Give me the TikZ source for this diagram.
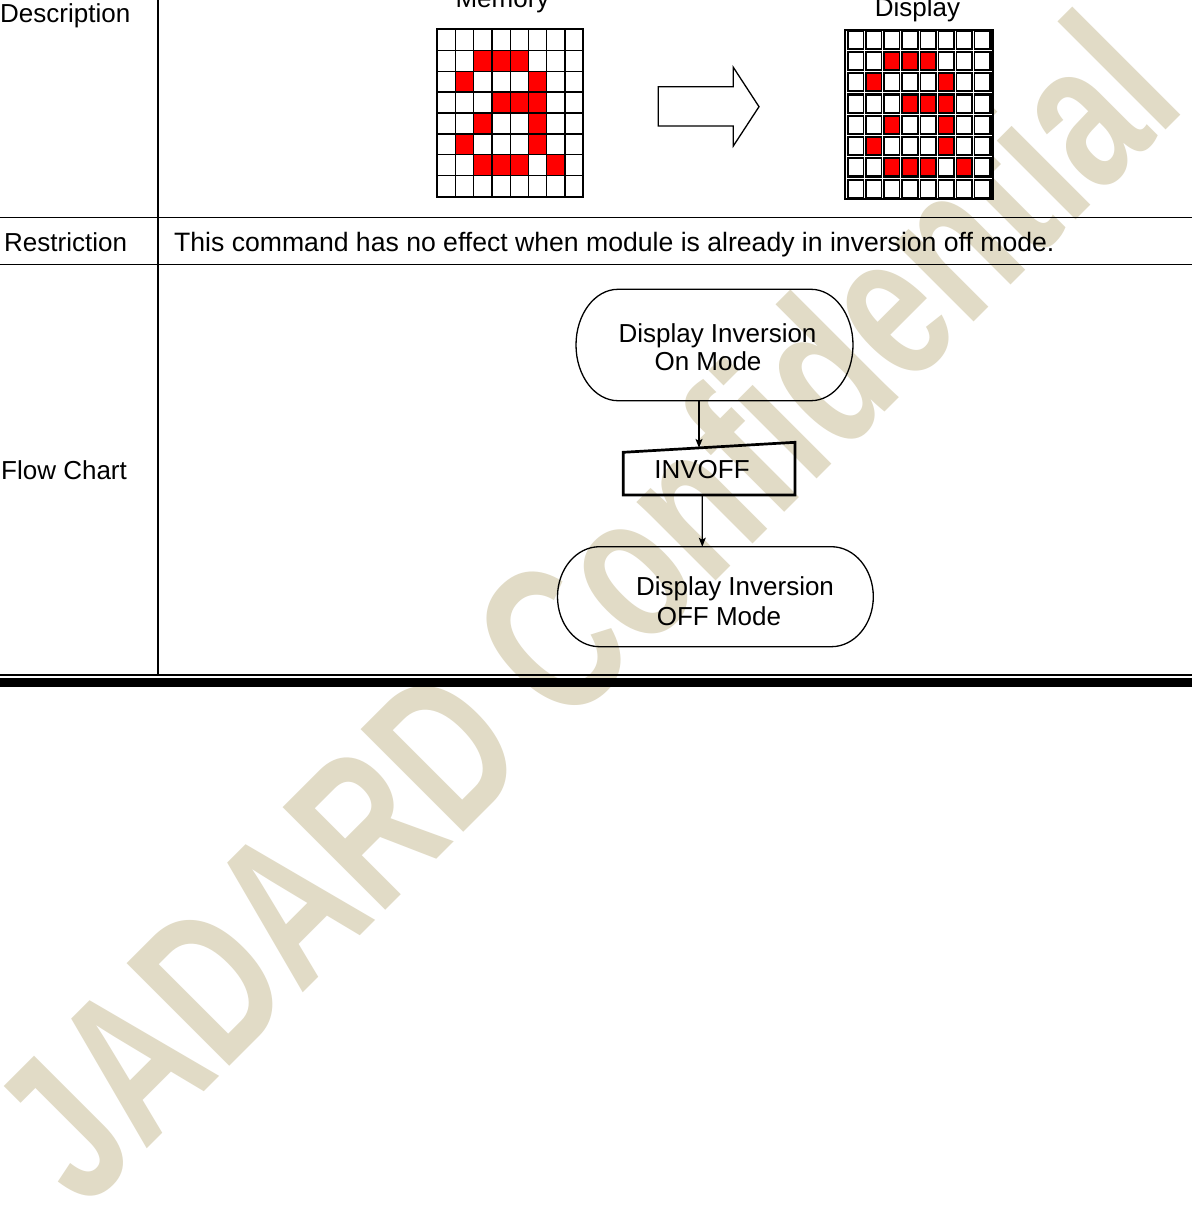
\documentclass[tikz,border=0pt]{standalone}
\usepackage{fontspec}
\setmainfont{Liberation Sans}
\usetikzlibrary{arrows.meta,calc}
\definecolor{wmcol}{RGB}{225,219,198}
\definecolor{pxred}{RGB}{255,0,0}
\begin{document}
\begin{tikzpicture}[x=1pt,y=-1pt,
  font=\fontsize{26}{30}\selectfont,
  lbl/.style={anchor=base west, inner sep=0pt},
  ctr/.style={anchor=base, inner sep=0pt},
  tline/.style={line width=1.8pt},
  gline/.style={line width=1.2pt},
  term/.style={line width=1.3pt},
  flow/.style={line width=1.2pt, -{Stealth[length=9pt,width=7pt,inset=2pt]}},
  holder/.style={draw=none, inner sep=0pt, outer sep=0pt},
]
\useasboundingbox (0,0) rectangle (1192,1209);
\clip (0,0) rectangle (1192,1209);
\fill[white] (0,0) rectangle (1192,1209);

% watermark
\node[font=\bfseries\fontsize{211}{211}\selectfont, text=wmcol, anchor=base west,
      inner sep=0pt, rotate=45, xscale=0.724] (wm) at (84,1212) {JADARD Confidential};

% table rules
\draw[tline] (158,0) -- (158,675);
\draw[tline] (0,217.5) -- (1192,217.5);
\draw[tline] (0,264.5) -- (1192,264.5);
\draw[line width=2pt] (0,675) -- (1192,675);
\fill[black] (0,678) rectangle (1192,687);

% row labels
\node[lbl] (ldesc) at (0,23) {Description};
\node[lbl] (lrest) at (4,251) {Restriction};
\node[lbl] (lflow) at (1,479) {Flow Chart};
\node[lbl, font=\fontsize{26.6}{30}\selectfont] (trest) at (174,251) {This command has no effect when module is already in inversion off mode.};

% memory grid
\node[ctr] (lmem) at (502.5,8) {Memory};
\fill[white] (437.3,29.3) rectangle (583.3,196.7);
\foreach \r/\c in {1/2,1/3,1/4,2/1,2/5,3/3,3/4,3/5,4/2,4/5,5/1,5/5,6/2,6/3,6/4,6/6}
  \fill[pxred] (437.3+\c*18.25,29.3+\r*20.925) rectangle ++(18.25,20.925);
\foreach \i in {1,...,7} {
  \draw[gline] (437.3+\i*18.25,29.3) -- (437.3+\i*18.25,196.7);
  \draw[gline] (437.3,29.3+\i*20.925) -- (583.3,29.3+\i*20.925);
}
\draw[line width=1.8pt] (437.3,29.3) rectangle (583.3,196.7);

% arrow
\draw[line width=1.3pt, line join=miter] (658.3,86.7) -- (733.3,86.7) -- (733.3,67.3) -- (759,106.7)
  -- (733.3,146) -- (733.3,126) -- (658.3,126) -- cycle;

% display grid
\node[ctr] (ldisp) at (917.5,17) {Display};
\fill[black] (843.5,29) rectangle (994.3,200);
\draw[white, line width=0.9pt] (846,31) -- (846,198);
\foreach \i in {0,...,6} {
  \draw[white, line width=0.9pt] (864.65+\i*18.1,31) -- (864.65+\i*18.1,198);
  \draw[white, line width=0.9pt] (846,50.35+\i*21.3) -- (992,50.35+\i*21.3);
}
\foreach \r in {0,...,7}
  \foreach \c in {0,...,7}
    \fill[white] (848.6+\c*18.1,31.7+\r*21.3) rectangle ++(14,16);
\foreach \r/\c in {1/2,1/3,1/4,2/1,2/5,3/3,3/4,3/5,4/2,4/5,5/1,5/5,6/2,6/3,6/4,6/6}
  \fill[pxred] (848.6+\c*18.1,31.7+\r*21.3) rectangle ++(14,16);

% flow chart
\node[holder, minimum width=277pt, minimum height=111.4pt] (on) at (714.5,345) {};
\draw[term] ([xshift=42pt]on.north west) -- ([xshift=-42pt]on.north east)
  arc[start angle=-90, end angle=90, x radius=42, y radius=55.7]
  -- ([xshift=42pt]on.south west)
  arc[start angle=90, end angle=270, x radius=42, y radius=55.7] -- cycle;
\node[ctr] (on1) at (717.5,342.5) {Display Inversion};
\node[ctr] (on2) at (708,370) {On Mode};

\node[holder, minimum width=171.7pt, minimum height=52.7pt] (inv) at (709.15,468.65) {};
\draw[line width=2.7pt, line join=miter] (inv.south west) -- (inv.south east) -- (inv.north east)
  -- ([yshift=-10pt]inv.north west) -- cycle;
\node[ctr] (inv1) at (702,478) {INVOFF};

\node[holder, minimum width=315.8pt, minimum height=100pt] (off) at (715.4,596.7) {};
\draw[term] ([xshift=42pt]off.north west) -- ([xshift=-42pt]off.north east)
  arc[start angle=-90, end angle=90, x radius=42, y radius=50]
  -- ([xshift=42pt]off.south west)
  arc[start angle=90, end angle=270, x radius=42, y radius=50] -- cycle;
\node[ctr] (off1) at (735,595) {Display Inversion};
\node[ctr] (off2) at (719,625) {OFF Mode};

\draw[flow] ([xshift=-15.5pt]on.south) -- ([xshift=-10.15pt,yshift=-5.6pt]inv.north);
\draw[flow] ([xshift=-7pt]inv.south) -- ([xshift=-13.1pt]off.north);
\end{tikzpicture}
\end{document}
